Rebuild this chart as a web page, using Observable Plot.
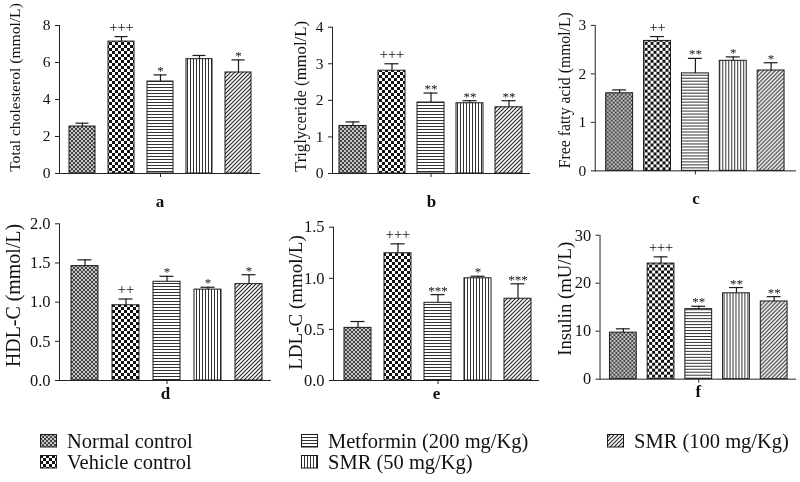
<!DOCTYPE html>
<html><head><meta charset="utf-8">
<script src="https://cdn.jsdelivr.net/npm/d3@7"></script>
<script src="https://cdn.jsdelivr.net/npm/@observablehq/plot@0.6"></script>
<style>
body{margin:0;background:#fff;}
#root{position:relative;width:800px;height:482px;overflow:hidden;font-family:"Liberation Serif","Times New Roman",serif;color:#111;filter:grayscale(1);}
.cell{position:absolute;}
.leg{position:absolute;font-size:20.5px;line-height:19px;white-space:nowrap;color:#111;}
.sw{position:absolute;}
</style></head><body>
<svg width="0" height="0" style="position:absolute">
<defs>
<pattern id="p0" width="4" height="4" patternUnits="userSpaceOnUse">
<rect width="4" height="4" fill="#c4c4c4"/><rect width="2" height="2" fill="#444"/><rect x="2" y="2" width="2" height="2" fill="#444"/>
</pattern>
<pattern id="p1" width="6" height="6" patternUnits="userSpaceOnUse">
<rect width="6" height="6" fill="#fff"/><rect width="3" height="3" fill="#111"/><rect x="3" y="3" width="3" height="3" fill="#111"/>
</pattern>
<pattern id="p2" width="3" height="3" patternUnits="userSpaceOnUse">
<rect width="3" height="3" fill="#fff"/><rect width="3" height="1" fill="#333"/>
</pattern>
<pattern id="p3" width="3" height="3" patternUnits="userSpaceOnUse">
<rect width="3" height="3" fill="#fff"/><rect width="1" height="3" fill="#333"/>
</pattern>
<pattern id="p4" width="4" height="4" patternUnits="userSpaceOnUse">
<rect width="4" height="4" fill="#fff"/><path d="M-1,1 l2,-2 M0,4 l4,-4 M3,5 l2,-2" stroke="#2a2a2a" stroke-width="1.2"/>
</pattern>
</defs></svg>
<div id="root"></div>
<script>
// ---- data ----
const groups = ["Normal control", "Vehicle control", "Metformin (200 mg/Kg)", "SMR (50 mg/Kg)", "SMR (100 mg/Kg)"];
const patterns = ["p0", "p1", "p2", "p3", "p4"];

const tcMean = [2.54, 7.13, 4.97, 6.18, 5.46];
const tcErr  = [0.18, 0.27, 0.36, 0.20, 0.68];
const tcSig  = ["", "+++", "*", "", "*"];
const tcTicks = [0, 2, 4, 6, 8];

const tgMean = [1.30, 2.81, 1.94, 1.92, 1.81];
const tgErr  = [0.11, 0.19, 0.26, 0.07, 0.18];
const tgSig  = ["", "+++", "**", "**", "**"];
const tgTicks = [0, 1, 2, 3, 4];

const ffaMean = [1.60, 2.68, 2.01, 2.27, 2.07];
const ffaErr  = [0.07, 0.09, 0.31, 0.08, 0.16];
const ffaSig  = ["", "++", "**", "*", "*"];
const ffaTicks = [0, 1, 2, 3];

const hdlMean = [1.46, 0.96, 1.26, 1.16, 1.23];
const hdlErr  = [0.08, 0.08, 0.07, 0.03, 0.12];
const hdlSig  = ["", "++", "*", "*", "*"];
const hdlTicks = [0, 0.5, 1.0, 1.5, 2.0];

const ldlMean = [0.515, 1.245, 0.76, 1.00, 0.80];
const ldlErr  = [0.062, 0.092, 0.08, 0.02, 0.146];
const ldlSig  = ["", "+++", "***", "*", "***"];
const ldlTicks = [0, 0.5, 1.0, 1.5];

const insMean = [9.7, 24.1, 14.6, 17.9, 16.2];
const insErr  = [0.8, 1.4, 0.6, 1.2, 1.0];
const insSig  = ["", "+++", "**", "**", "**"];
const insTicks = [0, 10, 20, 30];

const panelLabels = ["Total cholesterol (mmol/L)", "Triglyceride (mmol/L)", "Free fatty acid (mmol/L)",
                     "HDL-C (mmol/L)", "LDL-C (mmol/L)", "Insulin (mU/L)"];
const panelLetters = ["a", "b", "c", "d", "e", "f"];

// ---- layout (pixel geometry only) ----
const panels = [
  {mean: tcMean,  err: tcErr,  sig: tcSig,  ticks: tcTicks,  fmt: d3.format("d"),   row: 0, fl: 59,  fr: 260, ft: 25,    fb: 173, rs: 61,    re: 260, lx: 14,  ly: 87,  lf: 15.6},
  {mean: tgMean,  err: tgErr,  sig: tgSig,  ticks: tgTicks,  fmt: d3.format("d"),   row: 0, fl: 332, fr: 530, ft: 26.7,  fb: 173, rs: 332,   re: 529, lx: 300, ly: 96,  lf: 16.7},
  {mean: ffaMean, err: ffaErr, sig: ffaSig, ticks: ffaTicks, fmt: d3.format("d"),   row: 0, fl: 595, fr: 797, ft: 25,    fb: 171, rs: 599,   re: 792, lx: 565, ly: 90,  lf: 15.8},
  {mean: hdlMean, err: hdlErr, sig: hdlSig, ticks: hdlTicks, fmt: d3.format(".1f"), row: 1, fl: 59,  fr: 271, ft: 223.3, fb: 380, rs: 62.5,  re: 271, lx: 13,  ly: 295, lf: 19.9},
  {mean: ldlMean, err: ldlErr, sig: ldlSig, ticks: ldlTicks, fmt: d3.format(".1f"), row: 1, fl: 333, fr: 539, ft: 226.7, fb: 380, rs: 336,   re: 539, lx: 295, ly: 302, lf: 19},
  {mean: insMean, err: insErr, sig: insSig, ticks: insTicks, fmt: d3.format("d"),   row: 1, fl: 600, fr: 798, ft: 235,   fb: 380, rs: 603.5, re: 796, lx: 565, ly: 299, lf: 18.9}
];
const rowTop = [0, 205];
const rowH = [210, 212];
const letterDy = [28, 13];
const tickFont = [15.5, 16.5];

const root = document.getElementById("root");
const FONT = "'Liberation Serif', 'Times New Roman', serif";

panels.forEach((p, k) => {
  const data = groups.map((g, i) => ({g, v: p.mean[i], hi: p.mean[i] + p.err[i], s: p.sig[i], fill: `url(#${patterns[i]})`}));
  const ymax = p.ticks[p.ticks.length - 1];
  const cellX = p.fl - 64;
  const W = p.fr - cellX + 4;
  const top = rowTop[p.row], H = rowH[p.row];
  const step = (p.re - p.rs) / groups.length;
  const pad = 1 - 27 / step;
  const frameMidY = (p.ft + p.fb) / 2;
  const chart = Plot.plot({
    width: W, height: H,
    marginLeft: p.fl - cellX, marginRight: cellX + W - p.fr,
    marginTop: p.ft - top, marginBottom: top + H - p.fb,
    style: {fontFamily: FONT, fontSize: tickFont[p.row] + "px", background: "transparent", overflow: "visible", color: "#111"},
    x: {domain: groups, paddingInner: pad, paddingOuter: pad / 2, insetLeft: p.rs - p.fl, insetRight: p.fr - p.re, axis: null},
    y: {domain: [0, ymax], axis: null},
    color: {type: "identity"},
    marks: [
      Plot.barY(data, {x: "g", y: "v", fill: "fill", stroke: "#1a1a1a", strokeWidth: 1}),
      Plot.ruleX(data, {x: "g", y1: "v", y2: "hi", stroke: "#1a1a1a", strokeWidth: 1.2}),
      Plot.tickY(data, {x: "g", y: "hi", stroke: "#1a1a1a", strokeWidth: 1.2, inset: 6.5}),
      Plot.ruleY([0], {stroke: "#222", strokeWidth: 1}),
      Plot.frame({anchor: "left", stroke: "#222", strokeWidth: 1}),
      Plot.axisY({ticks: p.ticks, tickFormat: p.fmt, tickSize: 4, tickPadding: 5, label: null, fontSize: tickFont[p.row], stroke: "#222", fill: "#111"}),
      Plot.axisX({ticks: [groups[2]], tickFormat: () => "", tickSize: 4, label: null, stroke: "#222"}),
      Plot.text(data.filter(d => d.s.includes("+")), {x: "g", y: "hi", text: "s", lineAnchor: "bottom", dy: -5, fontSize: 14.5, fill: "#111"}),
      Plot.text(data.filter(d => d.s.includes("*")), {x: "g", y: "hi", text: "s", lineAnchor: "bottom", dy: 0, fontSize: 13, fill: "#111"}),
      Plot.text([panelLabels[k]], {frameAnchor: "left", textAnchor: "middle", lineAnchor: "middle", rotate: -90, dx: p.lx - p.fl, dy: p.ly - frameMidY, fontSize: p.lf, fill: "#111"}),
      Plot.text([panelLetters[k]], {frameAnchor: "bottom", textAnchor: "middle", lineAnchor: "middle", dy: letterDy[p.row], fontSize: 17, fontWeight: "bold", fill: "#111"})
    ]
  });
  const cell = document.createElement("div");
  cell.className = "cell";
  cell.style.left = cellX + "px";
  cell.style.top = top + "px";
  cell.appendChild(chart);
  root.appendChild(cell);
});

// ---- legend ----
const legendItems = [
  {i: 0, x: 40,  y: 441},
  {i: 1, x: 40,  y: 462},
  {i: 2, x: 301, y: 441},
  {i: 3, x: 301, y: 462},
  {i: 4, x: 607, y: 441}
];
legendItems.forEach(it => {
  const sw = document.createElementNS("http://www.w3.org/2000/svg", "svg");
  sw.setAttribute("width", 18); sw.setAttribute("height", 14);
  sw.setAttribute("class", "sw");
  sw.style.left = it.x + "px";
  sw.style.top = (it.y - 7) + "px";
  sw.innerHTML = `<rect x="0.5" y="0.5" width="16" height="12.5" fill="url(#${patterns[it.i]})" stroke="#1a1a1a"/>`;
  root.appendChild(sw);
  const t = document.createElement("div");
  t.className = "leg";
  t.textContent = groups[it.i];
  t.style.left = (it.x + 27) + "px";
  t.style.top = (it.y + 7 - 16.2) + "px";
  root.appendChild(t);
});
</script>
</body></html>
